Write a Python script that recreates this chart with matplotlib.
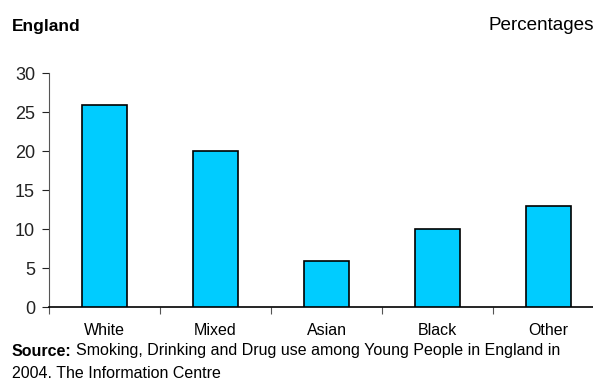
import numpy as np
import matplotlib.pyplot as plt

plt.rcParams['font.family'] = ['Liberation Sans', 'DejaVu Sans']

categories = ['White', 'Mixed', 'Asian', 'Black', 'Other']
values = [26, 20, 6, 10, 13]

fig = plt.figure(figsize=(5.93, 3.81), dpi=100)
# axis runs past the right edge of the picture, as in the original
ax = fig.add_axes([49 / 593, 73.7 / 381, 555 / 593, 234 / 381])

x = np.arange(len(categories))
ax.bar(x, values, width=0.4, color='#00CCFF', edgecolor='black', linewidth=1.2, zorder=3)

ax.set_xlim(-0.5, len(categories) - 0.5)
ax.set_ylim(0, 30)
ax.set_yticks(np.arange(0, 31, 5))
ax.tick_params(axis='y', labelsize=13, length=5, width=0.8, pad=5, colors='#222222')

# category labels sit between the tick marks
ax.set_xticks(np.arange(-0.5, len(categories), 1.0))
ax.set_xticklabels([])
ax.set_xticks(x, minor=True)
ax.set_xticklabels(categories, minor=True, fontsize=11.5)
ax.tick_params(axis='x', which='major', length=5, width=0.8, colors='#555555')
ax.tick_params(axis='x', which='minor', length=0, pad=11)

for s in ['top', 'right']:
    ax.spines[s].set_visible(False)
ax.spines['left'].set_color('#555555')
ax.spines['bottom'].set_color('black')
ax.spines['bottom'].set_linewidth(1.2)

fig.text(12 / 593, 1 - 26 / 381, 'England', fontsize=12.5, fontweight='bold', va='center')
fig.text(489 / 593, 1 - 26 / 381, 'Percentages', fontsize=13.6, va='center')

# source note: bold lead-in followed by regular text
src = fig.text(12 / 593, 1 - 351 / 381, 'Source:', fontsize=11.5, fontweight='bold', va='center')
fig.canvas.draw()
bb = src.get_window_extent(fig.canvas.get_renderer())
fig.text((bb.x1 + 4) / 593, 1 - 351 / 381,
         'Smoking, Drinking and Drug use among Young People in England in',
         fontsize=11.5, va='center')
fig.text(12 / 593, 1 - 373 / 381, '2004. The Information Centre', fontsize=11.5, va='center')

fig.savefig('out.png', dpi=100)
